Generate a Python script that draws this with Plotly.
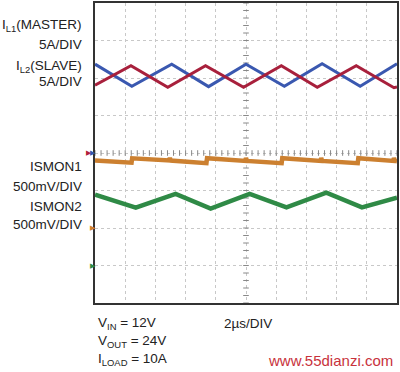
import plotly.graph_objects as go
import numpy as np

# ---- data (divisions: x 0..10, y -4..4) ----
il1_t = [0, 1.22, 2.54, 3.76, 5.0, 6.27, 7.52, 8.78, 10.0]
il1_v = [2.37, 1.78, 2.37, 1.77, 2.37, 1.78, 2.38, 1.78, 2.38]

il2_t = [0, 1.19, 2.41, 3.66, 4.92, 6.17, 7.36, 8.65, 9.9, 10.0]
il2_v = [1.81, 2.33, 1.75, 2.33, 1.75, 2.33, 1.75, 2.33, 1.74, 1.76]

ismon1_t = [0, 1.21, 1.23, 2.46, 2.48, 2.51, 3.69, 3.71, 4.98, 5.0, 5.03,
            6.18, 6.2, 7.47, 7.49, 7.52, 8.7, 8.72, 9.88, 9.9, 9.93, 10]
ismon1_v = [-0.20, -0.26, -0.14, -0.20, -0.13, -0.20, -0.27, -0.14, -0.21, -0.13, -0.21,
            -0.27, -0.14, -0.21, -0.13, -0.21, -0.27, -0.14, -0.21, -0.13, -0.21, -0.22]

ismon2_t = [0, 1.35, 2.67, 3.83, 5.12, 6.34, 7.66, 8.84, 10.0]
ismon2_v = [-1.11, -1.46, -1.09, -1.48, -1.09, -1.45, -1.06, -1.45, -1.19]

ground_levels = [0, 0, -2, -3]
ground_colors = ["#b0203a", "#3355aa", "#cc7f2e", "#2f8a46"]

BLUE = "#3a58b0"
RED = "#a8203c"
ORANGE = "#cc8030"
GREEN = "#2f8a46"

fig = go.Figure()

# center crosshair tick marks
tick_x = np.round(np.arange(0, 10.01, 0.2), 2)
tick_y = np.round(np.arange(-4, 4.01, 0.2), 2)
fig.add_trace(go.Scatter(x=tick_x, y=[0] * len(tick_x), mode="markers",
                         marker=dict(symbol="line-ns-open", size=4, color="#888",
                                     line=dict(width=1, color="#888")),
                         hoverinfo="skip", showlegend=False))
fig.add_trace(go.Scatter(x=[5] * len(tick_y), y=tick_y, mode="markers",
                         marker=dict(symbol="line-ew-open", size=4, color="#888",
                                     line=dict(width=1, color="#888")),
                         hoverinfo="skip", showlegend=False))

fig.add_trace(go.Scatter(x=ismon1_t, y=ismon1_v, mode="lines",
                         line=dict(color=ORANGE, width=4.5), showlegend=False))
fig.add_trace(go.Scatter(x=ismon2_t, y=ismon2_v, mode="lines",
                         line=dict(color=GREEN, width=4.5), showlegend=False))
fig.add_trace(go.Scatter(x=il1_t, y=il1_v, mode="lines",
                         line=dict(color=BLUE, width=3), showlegend=False))
fig.add_trace(go.Scatter(x=il2_t, y=il2_v, mode="lines",
                         line=dict(color=RED, width=3), showlegend=False))

L, R, T, B = 95, 2, 1, 69
W, H = 400, 372
PW, PH = W - L - R, H - T - B


def px(x):
    return (x - L) / PW


def py(y):
    return (H - B - y) / PH


FONT = "Liberation Sans, Arial, sans-serif"
ann = []

# ground-level markers at the left edge
marker_x = [px(89), px(93), px(93), px(93)]
for mx, lvl, col in zip(marker_x, ground_levels, ground_colors):
    ann.append(dict(text="▶", x=mx, y=lvl, xref="paper", yref="y",
                    xanchor="center", yanchor="middle", showarrow=False,
                    font=dict(family="DejaVu Sans", size=7, color=col)))


def label(text, x, y, anchor="right", size=13.5, color="#222"):
    ann.append(dict(text=text, x=px(x), y=py(y), xref="paper", yref="paper",
                    xanchor=anchor, yanchor="middle", showarrow=False,
                    font=dict(family=FONT, size=size, color=color)))


label("I<sub>L1</sub>(MASTER)", 84, 24)
label("5A/DIV", 84, 43)
label("I<sub>L2</sub>(SLAVE)", 84, 65)
label("5A/DIV", 84, 80)
label("ISMON1", 84, 166)
label("500mV/DIV", 84, 186)
label("ISMON2", 84, 206)
label("500mV/DIV", 84, 224)
label("V<sub>IN</sub> = 12V", 96, 324, anchor="left")
label("V<sub>OUT</sub> = 24V", 96, 342, anchor="left")
label("I<sub>LOAD</sub> = 10A", 96, 360, anchor="left")
label("2µs/DIV", 222, 324, anchor="left")
label("www.55dianzi.com", 396, 361, anchor="right", size=15, color="#c8323c")

axis_common = dict(showticklabels=False, ticks="", zeroline=False,
                   showgrid=True, gridcolor="#c8c8c8", griddash="dot", gridwidth=1,
                   showline=True, linecolor="#333", linewidth=2, mirror=True)

fig.update_layout(
    width=W, height=H,
    margin=dict(l=L, r=R, t=T, b=B),
    paper_bgcolor="white", plot_bgcolor="white",
    xaxis=dict(range=[0, 10], dtick=1, tick0=0, **axis_common),
    yaxis=dict(range=[-4, 4], dtick=1, tick0=0, **axis_common),
    annotations=ann,
    showlegend=False,
)

fig.write_html("out.html", config={"displayModeBar": False},
               post_script="document.body.style.margin='0';")
